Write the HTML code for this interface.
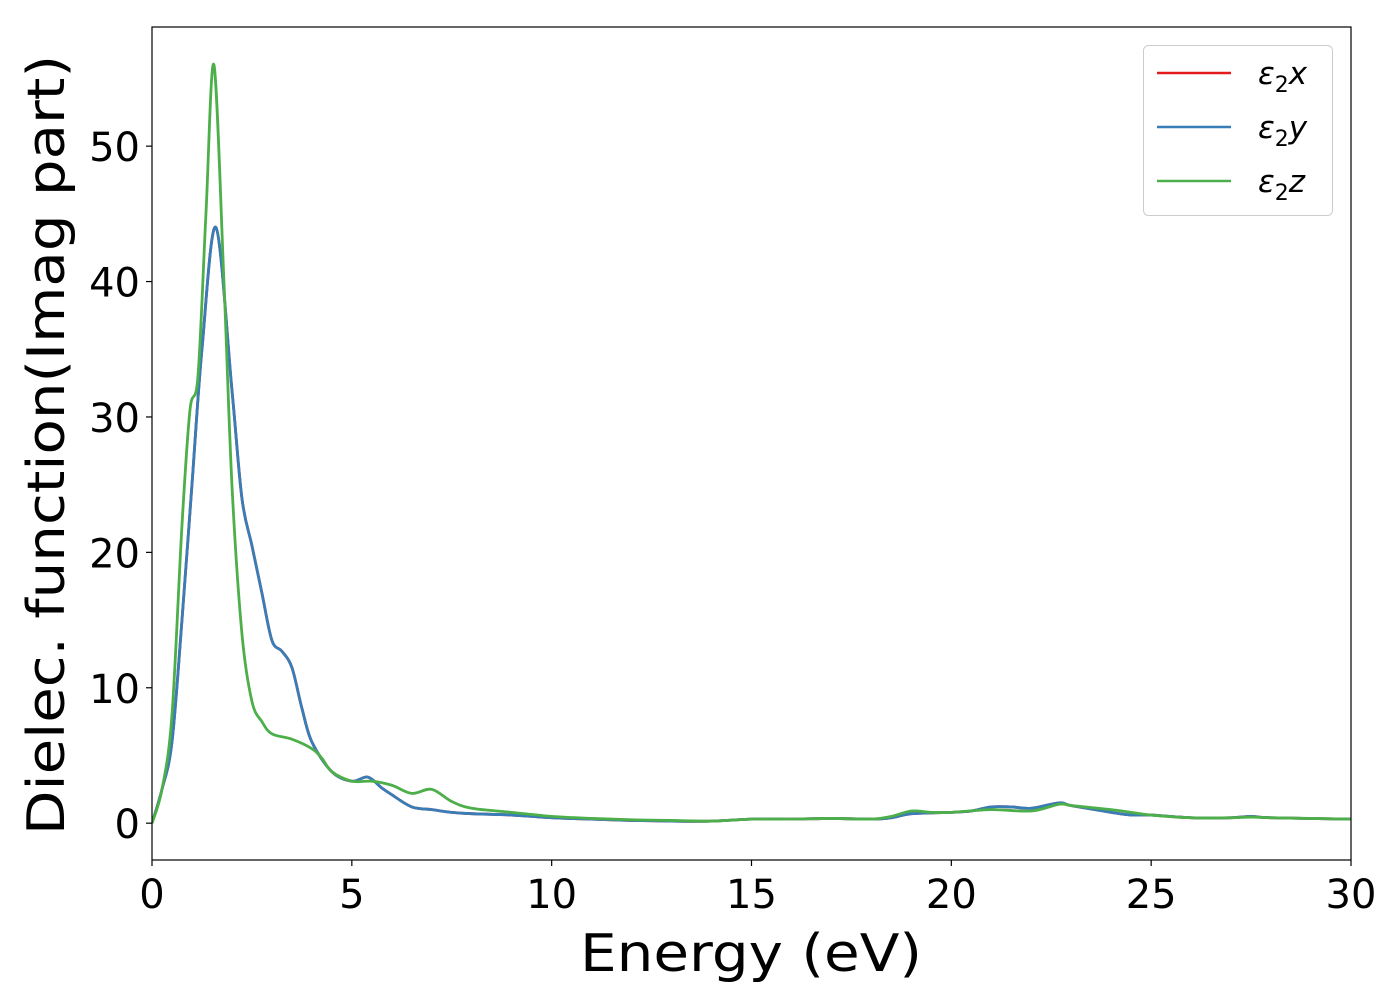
<!DOCTYPE html>
<html><head><meta charset="utf-8"><style>
body{margin:0;background:#fff}
svg{display:block;font-family:"DejaVu Sans","Liberation Sans",sans-serif}
</style></head><body>
<svg id="chart" width="1400" height="1000">
<g id="plot"></g>
<text x="751" y="971" font-size="52" text-anchor="middle" textLength="342" lengthAdjust="spacingAndGlyphs">Energy (eV)</text>
<text transform="translate(64,445) rotate(-90)" font-size="52" text-anchor="middle" textLength="780" lengthAdjust="spacingAndGlyphs">Dielec. function(Imag part)</text>
<g>
<rect x="1143.5" y="45.5" width="189" height="170" rx="5" fill="#fff" stroke="#ccc"/>
<g><line x1="1157" x2="1231" y1="73" y2="73" stroke="#e41a1c" stroke-width="2.5"/><text x="1258" y="84" font-size="31" font-style="italic">ε<tspan font-style="normal" font-size="22" dy="8">2</tspan><tspan dy="-8">x</tspan></text></g>
<g><line x1="1157" x2="1231" y1="127" y2="127" stroke="#377eb8" stroke-width="2.5"/><text x="1258" y="138" font-size="31" font-style="italic">ε<tspan font-style="normal" font-size="22" dy="8">2</tspan><tspan dy="-8">y</tspan></text></g>
<g><line x1="1157" x2="1231" y1="181" y2="181" stroke="#4daf4a" stroke-width="2.5"/><text x="1258" y="192" font-size="31" font-style="italic">ε<tspan font-style="normal" font-size="22" dy="8">2</tspan><tspan dy="-8">z</tspan></text></g>
</g>
</svg>
<script>
const energyXY=[0,0.25,0.5,0.75,1.0,1.25,1.6,2.0,2.25,2.5,2.75,3.0,3.25,3.5,3.75,4.0,4.5,5.0,5.4,5.75,6.0,6.5,7,7.5,8,9,10,11,12,13,14,15,16,17,18,18.5,19,20,20.5,21,21.5,22,22.7,23,24,24.5,25,26,27,27.5,28,30];
const eps2x=[0,2.5,6,15,25,35,44,32,24,20.5,17,13.5,12.7,11.5,8.5,6,3.8,3.1,3.4,2.6,2.1,1.2,1.0,0.8,0.7,0.6,0.4,0.3,0.2,0.15,0.15,0.3,0.3,0.35,0.3,0.4,0.7,0.8,0.9,1.2,1.2,1.1,1.5,1.3,0.8,0.6,0.6,0.4,0.4,0.5,0.4,0.3];
const eps2y=eps2x.slice();
const energyZ=[0,0.25,0.5,0.75,0.95,1.15,1.35,1.55,1.8,2.0,2.25,2.5,2.75,3.0,3.5,4.0,4.25,4.5,5.0,5.5,6.0,6.5,7,7.5,8,9,10,11,12,13,14,15,16,17,18,18.5,19,19.5,20,21,22,22.7,23,24,24.5,25,26,27,27.5,28,30];
const eps2z=[0,2.5,8,22,30.5,33,45,56,40,25,14,9,7.5,6.6,6.2,5.5,4.8,3.8,3.1,3.1,2.8,2.2,2.5,1.6,1.1,0.8,0.5,0.35,0.25,0.2,0.15,0.3,0.3,0.35,0.3,0.5,0.9,0.8,0.8,1.0,0.9,1.4,1.3,1.0,0.8,0.6,0.4,0.4,0.45,0.4,0.3];
const xTicks=[0,5,10,15,20,25,30];
const yTicks=[0,10,20,30,40,50];
const X0=152,X1=1351,Y0=27,Y1=860,xmin=0,xmax=30,ymin=-2.72,ymax=58.8;
const sx=v=>X0+(v-xmin)/(xmax-xmin)*(X1-X0);
const sy=v=>Y1-(v-ymin)/(ymax-ymin)*(Y1-Y0);
const NS='http://www.w3.org/2000/svg';
const g=document.getElementById('plot');
function mk(t,a){const e=document.createElementNS(NS,t);for(const k in a)e.setAttribute(k,a[k]);return e;}
function path(xs,ys){const p=xs.map((x,i)=>[sx(x),sy(ys[i])]);let d='M'+p[0][0]+','+p[0][1];
for(let i=0;i<p.length-1;i++){const a=p[i-1]||p[i],b=p[i],c=p[i+1],e=p[i+2]||c;
d+=' C'+(b[0]+(c[0]-a[0])/6)+','+(b[1]+(c[1]-a[1])/6)+' '+(c[0]-(e[0]-b[0])/6)+','+(c[1]-(e[1]-b[1])/6)+' '+c[0]+','+c[1];}return d;}
const clip=mk('clipPath',{id:'cp'});clip.appendChild(mk('rect',{x:X0,y:Y0,width:X1-X0,height:Y1-Y0}));g.appendChild(clip);
const series=[[energyXY,eps2x,'#e41a1c','series-eps2x'],[energyXY,eps2y,'#377eb8','series-eps2y'],[energyZ,eps2z,'#4daf4a','series-eps2z']];
for(const s of series){const el=mk('path',{d:path(s[0],s[1]),fill:'none',stroke:s[2],'stroke-width':2.8,'stroke-linejoin':'round','clip-path':'url(#cp)'});


g.appendChild(el);}
const frame=mk('rect',{x:X0,y:Y0,width:X1-X0,height:Y1-Y0,fill:'none',stroke:'#000','stroke-width':1.2});


g.appendChild(frame);
for(const t of xTicks){const x=sx(t);g.appendChild(mk('line',{x1:x,x2:x,y1:Y1,y2:Y1+6,stroke:'#000','stroke-width':1.2}));
const tx=mk('text',{x:x,y:Y1+48,'font-size':40,'text-anchor':'middle'});tx.textContent=t;


g.appendChild(tx);}
for(const t of yTicks){const y=sy(t);g.appendChild(mk('line',{x1:X0-6,x2:X0,y1:y,y2:y,stroke:'#000','stroke-width':1.2}));
const tx=mk('text',{x:X0-12,y:y+15,'font-size':40,'text-anchor':'end'});tx.textContent=t;


g.appendChild(tx);}
</script>
</body></html>
